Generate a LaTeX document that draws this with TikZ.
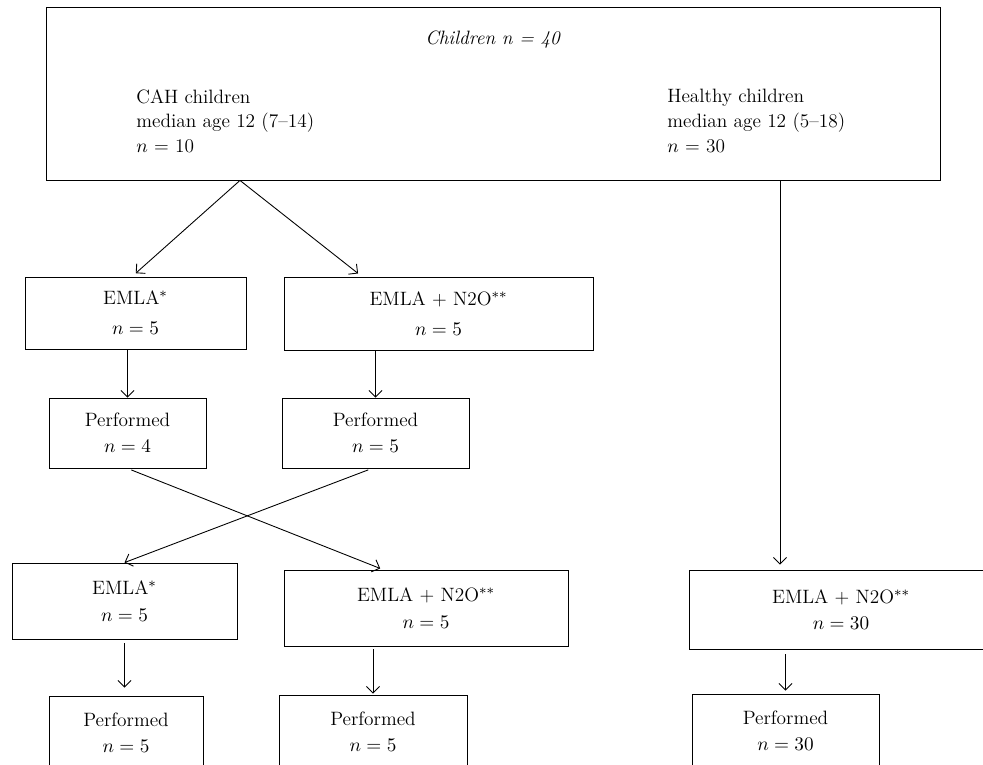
\documentclass[tikz,border=0pt]{standalone}
\usetikzlibrary{arrows.meta}
\tikzset{
  stepbox/.style={draw, line width=0.5pt, align=center, inner sep=0pt,
                  font=\fontsize{11}{15}\selectfont},
  txt/.style={align=left, inner sep=0pt, font=\fontsize{11}{14}\selectfont},
  arr/.style={-{Straight Barb[length=1.3mm,width=2.6mm]}, line width=0.5pt}
}
\begin{document}
\begin{tikzpicture}[x=0.2mm,y=-0.2mm]
\useasboundingbox (0,0) rectangle (983,765);
% top box
\node [stepbox, minimum width=178.8mm, minimum height=34.6mm] (all) at (493,93.5) {};
\node [txt] (title) at (493,40) {\textit{Children n = 40}};
\node [txt, anchor=west] (cah) at (136,121) {CAH children\\ median age 12 (7--14)\\ $n$ = 10};
\node [txt, anchor=west] (healthy) at (667,121) {Healthy children\\ median age 12 (5--18)\\ $n$ = 30};
% first period
\node [stepbox, minimum width=44.2mm, minimum height=14.4mm] (emlaA) at (135.5,313) {EMLA$^{*}$\\[2pt] $n = 5$};
\node [stepbox, minimum width=61.8mm, minimum height=14.6mm] (mixA) at (438.5,313.5) {EMLA + N2O$^{**}$\\[2pt] $n = 5$};
\node [stepbox, minimum width=31.4mm, minimum height=14mm] (perfA) at (127.5,433) {Performed\\ $n = 4$};
\node [stepbox, minimum width=37.4mm, minimum height=14mm] (perfB) at (375.5,433) {Performed\\ $n = 5$};
% second period
\node [stepbox, minimum width=45mm, minimum height=15.2mm] (emlaB) at (124.5,601) {EMLA$^{*}$\\ $n = 5$};
\node [stepbox, minimum width=56.8mm, minimum height=15.2mm] (mixB) at (426,608) {EMLA + N2O$^{**}$\\ $n = 5$};
\node [stepbox, minimum width=30.8mm, minimum height=14.8mm] (perfC) at (126,733) {Performed\\ $n = 5$};
\node [stepbox, minimum width=37.6mm, minimum height=14.8mm] (perfD) at (373,732) {Performed\\ $n = 5$};
% healthy children
\node [stepbox, minimum width=60.8mm, minimum height=15.8mm] (mixC) at (841,609.5) {EMLA + N2O$^{**}$\\ $n = 30$};
\node [stepbox, minimum width=37.4mm, minimum height=14.8mm] (perfE) at (785.5,731) {Performed\\ $n = 30$};
% arrows
\coordinate (fork) at ([xshift=-50.6mm]all.south);
\draw [arr, shorten >=1mm] (fork) -- ([xshift=-0.7mm]emlaA.north);
\draw [arr, shorten >=1mm] (fork) -- ([xshift=-15.3mm]mixA.north);
\draw [arr] (emlaA.south -| perfA.north) -- (perfA.north);
\draw [arr] (mixA.south -| perfB.north) -- (perfB.north);
\draw [arr, shorten <=0.8mm, shorten >=0.6mm] (perfA.south) -- ([xshift=-8.6mm]mixB.north);
\draw [arr, shorten <=0.8mm] ([xshift=-0.7mm]perfB.south) -- (emlaB.north);
\draw [arr, shorten <=0.8mm, shorten >=1.6mm] (emlaB.south) -- (emlaB.south |- perfC.north);
\draw [arr, shorten <=0.6mm, shorten >=0.2mm] (mixB.south -| perfD.north) -- (perfD.north);
\draw [arr, shorten <=1mm, shorten >=0.6mm] (mixC.south -| perfE.north) -- (perfE.north);
\draw [arr, shorten >=1mm] ([xshift=57.4mm]all.south) -- ([xshift=57.4mm]all.south |- mixC.north);
\end{tikzpicture}
\end{document}
